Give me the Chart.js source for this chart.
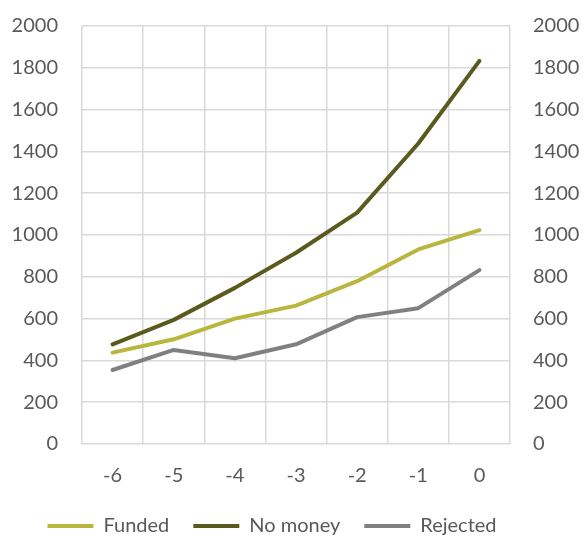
<!DOCTYPE html>
<html>
<head>
<meta charset="utf-8">
<script src="https://cdn.jsdelivr.net/npm/chart.js@4/dist/chart.umd.min.js"></script>
<style>
  html, body { margin: 0; padding: 0; background: #ffffff; }
  #wrap { width: 583px; height: 536px; }
</style>
</head>
<body>
<div id="wrap"><canvas id="chart" width="583" height="536"></canvas></div>
<script>
// Years relative to the decision year
const years = ['-6', '-5', '-4', '-3', '-2', '-1', '0'];

const funded   = [437, 501, 600, 662, 779, 931, 1023];
const noMoney  = [477, 594, 747, 915, 1107, 1438, 1833];
const rejected = [354, 450, 410, 477, 607, 650, 832];

const seriesNames = ['Funded', 'No money', 'Rejected'];
const yTicks = [0, 200, 400, 600, 800, 1000, 1200, 1400, 1600, 1800, 2000];

const colors = ['#B9B63E', '#5A5A1E', '#808080'];
const textColor = '#595959';
const gridColor = '#D9D9D9';
const fontFamily = 'Lato, "Open Sans", sans-serif';
const fontSize = 20;

const makeSet = (label, data, color) => ({
  label, data,
  borderColor: color,
  backgroundColor: color,
  borderWidth: 4,
  borderCapStyle: 'round',
  borderJoinStyle: 'round',
  pointRadius: 0,
  pointHoverRadius: 0,
  tension: 0,
  yAxisID: 'y'
});

const yAxisBase = {
  min: 0,
  max: 2000,
  afterBuildTicks: axis => { axis.ticks = yTicks.map(v => ({ value: v })); },
  // fixed gutter width; only half a label of headroom above the top tick
  afterFit: axis => { axis.width = 70; axis.paddingTop = 12; },
  border: { display: false }
};
const tickFont = { family: fontFamily, size: fontSize };

// tuck the legend row up under the axis and a little left of centre
const legendShift = {
  id: 'legendShift',
  afterLayout(chart) {
    const lg = chart.legend;
    if (!lg) return;
    lg.left -= 24; lg.right -= 24;
    lg.top -= 16; lg.bottom -= 16;
  }
};

new Chart(document.getElementById('chart'), {
  type: 'line',
  data: {
    labels: years,
    datasets: [
      makeSet(seriesNames[0], funded, colors[0]),
      makeSet(seriesNames[1], noMoney, colors[1]),
      makeSet(seriesNames[2], rejected, colors[2])
    ]
  },
  plugins: [legendShift],
  options: {
    responsive: false,
    animation: false,
    layout: { padding: { left: 12, right: 3, top: 26, bottom: -26 } },
    plugins: {
      tooltip: { enabled: false },
      legend: {
        position: 'bottom',
        labels: {
          color: textColor,
          font: { family: fontFamily, size: fontSize },
          boxWidth: 46,
          boxHeight: 4,
          padding: 24,
          generateLabels: chart => chart.data.datasets.map((ds, i) => ({
            text: ds.label,
            fillStyle: ds.borderColor,
            strokeStyle: ds.borderColor,
            lineWidth: 0,
            fontColor: textColor,
            datasetIndex: i,
            hidden: false
          }))
        }
      }
    },
    scales: {
      x: {
        type: 'category',
        offset: true,
        grid: { color: gridColor, lineWidth: 1.5, offset: true, drawTicks: false },
        border: { display: false },
        ticks: { color: textColor, font: tickFont, padding: 20 }
      },
      y: Object.assign({}, yAxisBase, {
        position: 'left',
        grid: { color: gridColor, lineWidth: 1.5, drawTicks: false },
        ticks: { color: textColor, font: tickFont, padding: 24, callback: v => String(v) }
      }),
      y2: Object.assign({}, yAxisBase, {
        position: 'right',
        grid: { display: false, drawTicks: false },
        ticks: { color: textColor, font: tickFont, padding: 23, callback: v => String(v) }
      })
    }
  }
});
</script>
</body>
</html>
